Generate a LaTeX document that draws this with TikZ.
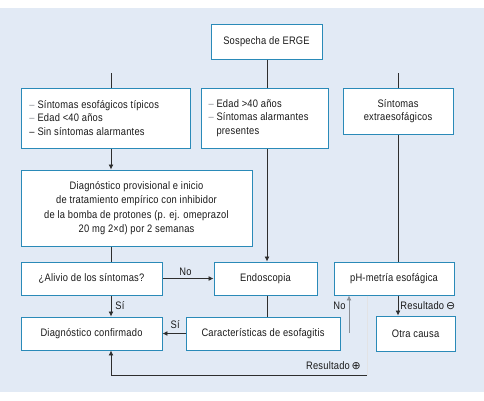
\documentclass[tikz,border=0pt]{standalone}
\usepackage{fontspec}
\setmainfont[FakeStretch=0.86,LetterSpace=2]{Liberation Sans}
\newfontfamily\symfont{DejaVu Sans}
\usetikzlibrary{arrows.meta}
\definecolor{bgblue}{HTML}{E2EAF5}
\definecolor{boxblue}{HTML}{2A8AB8}
\definecolor{txt}{HTML}{1A1A1A}
\definecolor{lnk}{HTML}{2E2E2E}
\definecolor{lgt}{HTML}{8A8F96}
\tikzset{
  box/.style={draw=boxblue, fill=white, line width=1pt, inner sep=0pt, align=center,
    text=txt, font=\fontsize{10.9}{13.5}\selectfont},
  link/.style={draw=lnk, line width=0.8pt},
  arr/.style={link, -{Latex[length=5pt,width=5pt]}},
  lab/.style={text=txt, font=\fontsize{10.9}{12}\selectfont, inner sep=1pt},
}
\begin{document}
\begin{tikzpicture}[x=1bp,y=-1bp]
\useasboundingbox (0,0) rectangle (484,400);
\fill[bgblue] (0,8) rectangle (484,392);

\node[box, minimum width=111bp, minimum height=35bp] (erge) at (266.5,41.5) {Sospecha de ERGE};
\node[box, minimum width=169bp, minimum height=60bp, align=left] (A) at (105.5,118)
  {\parbox{152bp}{\raggedright\fontsize{10.9}{13.3}\selectfont
   \textcolor{lgt}{–} Síntomas esofágicos típicos\\
   \textcolor{lgt}{–} Edad <40 años\\
   – Sin síntomas alarmantes}};
\node[box, minimum width=127bp, minimum height=60bp, align=left] (B) at (264.5,118)
  {\parbox{112bp}{\raggedright\fontsize{10.9}{13.3}\selectfont
   \textcolor{lgt}{–} Edad >40 años\\
   \textcolor{lgt}{–} Síntomas alarmantes\\
   \hphantom{– }presentes}};
\node[box, minimum width=110bp, minimum height=46bp] (C) at (398,111)
  {Síntomas\\extraesofágicos};
\node[box, minimum width=231bp, minimum height=76bp, font=\fontsize{10.9}{14.3}\selectfont] (D) at (136.5,208)
  {Diagnóstico provisional e inicio\\de tratamiento empírico con inhibidor\\de la bomba de protones (p. ej. omeprazol\\20 mg 2×d) por 2 semanas};
\node[box, minimum width=141bp, minimum height=33bp] (alivio) at (91.5,278.5) {¿Alivio de los síntomas?};
\node[box, minimum width=103bp, minimum height=33bp] (endo) at (265.5,278.5) {Endoscopia};
\node[box, minimum width=120bp, minimum height=33bp] (ph) at (394,278.5) {pH-metría esofágica};
\node[box, minimum width=141bp, minimum height=33bp] (conf) at (91.5,333.5) {Diagnóstico confirmado};
\node[box, minimum width=154bp, minimum height=33bp] (carac) at (263,333.5) {Características de esofagitis};
\node[box, minimum width=79bp, minimum height=35bp] (otra) at (415.5,333.5) {Otra causa};

\coordinate (xl) at (111,0);
\coordinate (xm) at (267,0);
\coordinate (xr) at (398,0);
\coordinate (sA) at (111,73);
\coordinate (sC) at (398,73);
\coordinate (noS) at (349,333);
\coordinate (resS) at (367,0);
\coordinate (bot) at (367,375);

\draw[link] (erge.south -| xm) -- (B.north -| xm);
\draw[link] (sA) -- (sA |- A.north);
\draw[link] (sC) -- (sC |- C.north);
\draw[arr] (A.south -| xl) -- (D.north -| xl);
\draw[link] (D.south -| xl) -- (alivio.north -| xl);
\draw[arr] (B.south -| xm) -- (endo.north -| xm);
\draw[link] (C.south -| xr) -- (ph.north -| xr);

\draw[arr] (alivio.east) -- node[lab, above=2pt, pos=0.45] {No} (endo.west);
\draw[arr] (alivio.south -| xl) -- node[lab, right=3pt] {Sí} (conf.north -| xl);
\draw[link] (endo.south -| xm) -- (carac.north -| xm);
\draw[arr] (carac.west) -- node[lab, above=4pt, pos=0.45] {Sí} (conf.east);
\draw[draw=lgt, line width=0.8pt, -{Latex[length=5pt,width=5pt]}] (noS) -- node[lab, left=2pt, pos=0.72] {No} (noS |- ph.south);
\draw[arr] (ph.south -| xr) -- node[lab, right=1pt] {Resultado\,{\symfont ⊖}} (otra.north -| xr);
\draw[draw=white!75!lgt, line width=0.8pt] (ph.south -| resS) -- (bot);
\draw[arr] (bot) -- (bot -| xl) -- (conf.south -| xl);
\node[lab, anchor=south east] (rplus) at (362,371) {Resultado\,{\symfont ⊕}};
\end{tikzpicture}
\end{document}
